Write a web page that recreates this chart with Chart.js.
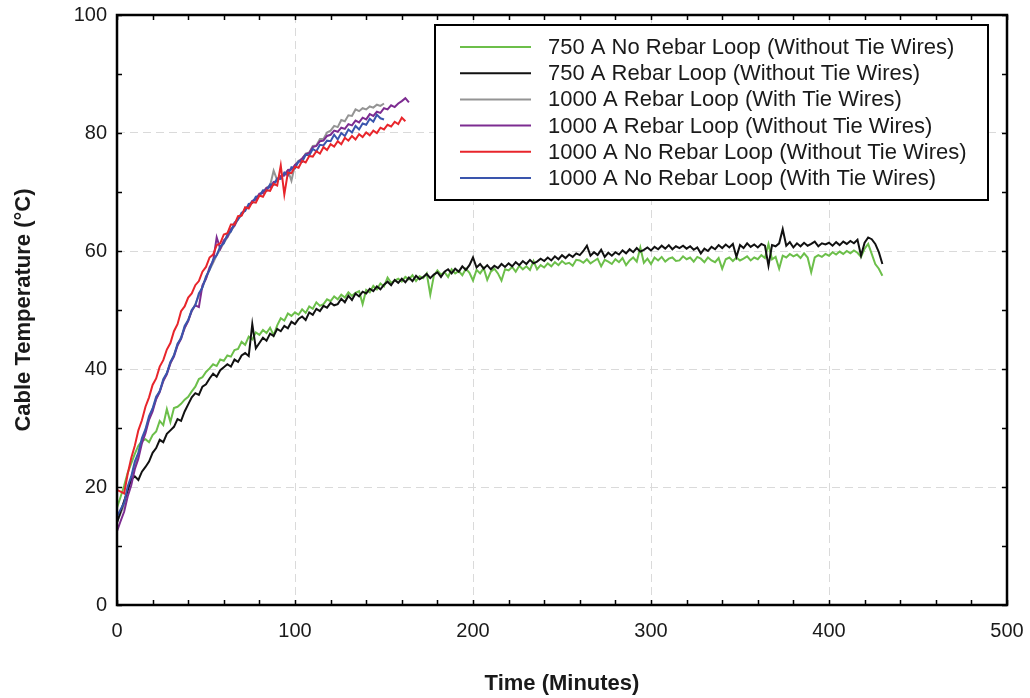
<!DOCTYPE html>
<html>
<head>
<meta charset="utf-8">
<script src="https://cdn.jsdelivr.net/npm/chart.js@4.4.2/dist/chart.umd.min.js"></script>
<style>
  html, body { margin: 0; padding: 0; background: #fff; }
  #wrap { width: 1030px; height: 698px; }
</style>
</head>
<body>
<div id="wrap"><canvas id="temps" width="1030" height="698"></canvas></div>
<script>
// readings every 2 minutes
const STEP = 2;

const seriesLabels = [
  '750 A No Rebar Loop (Without Tie Wires)',
  '750 A Rebar Loop (Without Tie Wires)',
  '1000 A Rebar Loop (With Tie Wires)',
  '1000 A Rebar Loop (Without Tie Wires)',
  '1000 A No Rebar Loop (Without Tie Wires)',
  '1000 A No Rebar Loop (With Tie Wires)'
];
const seriesColors = ['#6cbf4a', '#111111', '#949494', '#7d2c91', '#e8252b', '#3a55ad'];

const green750 = [
  16.5, 18.3, 20.2, 22.4, 24.0, 25.6, 27.0, 27.8, 28.1, 27.6,
  28.8, 29.4, 31.2, 30.5, 33.2, 31.0, 33.4, 33.6, 34.1, 34.8,
  35.3, 36.2, 37.0, 38.3, 38.6, 39.5, 40.1, 40.8, 40.5, 41.6,
  41.4, 42.3, 42.1, 43.2, 43.4, 44.6, 44.1, 45.5, 45.0, 46.2,
  45.8, 46.6, 46.1, 47.0, 45.7, 47.4, 48.6, 48.2, 49.4, 49.0,
  49.6, 49.2, 50.1, 49.5, 50.6, 50.2, 51.3, 50.7, 51.0, 51.8,
  51.5, 52.3, 51.8, 52.6, 52.1, 53.0, 52.4, 52.9, 53.2, 51.0,
  53.4, 53.0, 54.1, 53.5, 54.5, 54.0, 55.5, 54.6, 55.0, 55.3,
  54.8, 55.6, 55.2, 55.9, 54.9, 55.7, 55.4, 56.2, 52.6, 55.8,
  56.7, 56.0, 56.4, 55.6, 56.9, 56.2, 56.6, 55.9, 57.0, 56.3,
  55.0, 56.8, 56.2, 57.1, 55.1, 56.5, 57.0, 56.2, 55.0, 56.9,
  56.7, 57.3, 56.5, 57.5, 56.9, 57.4, 56.8, 58.3, 56.9, 57.6,
  57.2, 57.9, 57.4, 58.1, 57.6, 58.3, 57.8, 58.0, 57.5, 58.5,
  58.4, 58.0, 58.6, 57.9, 58.3, 58.7, 57.4, 58.5, 58.2, 57.8,
  58.6, 58.1, 58.8, 57.6, 58.4, 58.9, 58.2, 60.6, 58.0, 58.7,
  57.8, 58.9, 58.4, 59.0, 58.2, 58.7, 58.9, 58.3, 58.4, 59.1,
  58.6, 58.9, 58.2, 59.0, 58.7, 58.1, 58.9, 58.4, 58.1, 58.8,
  57.0, 58.6, 58.9, 58.3, 58.9, 58.4, 58.7, 59.1, 58.4, 58.9,
  58.6, 59.3, 58.8, 61.2, 58.6, 59.0, 57.0, 59.2, 58.9, 59.5,
  59.1, 59.4, 58.8, 59.6, 58.9, 56.4, 58.9, 59.3, 59.0, 59.5,
  59.2, 59.8, 59.4, 59.9, 59.5, 60.0, 59.6, 60.1, 59.7, 59.0,
  60.4, 61.2, 59.5, 57.8, 57.0, 55.8
];

const black750 = [
  14.0, 15.8, 17.6, 19.4, 21.3, 21.8, 21.2, 22.6, 23.4, 24.3,
  25.8, 26.6, 28.0, 27.6, 29.0, 29.6, 30.2, 31.5, 31.2, 32.8,
  34.0, 35.2, 35.9, 35.6, 37.0, 37.4, 38.4, 39.2, 38.7, 39.8,
  40.3, 40.8, 40.4, 41.6, 41.2, 42.3, 42.7, 42.2, 47.6, 43.5,
  44.4, 45.3, 44.8, 46.0, 45.6, 46.8, 46.4, 47.3, 46.9, 48.0,
  47.6, 48.5, 48.9, 48.3, 49.6, 49.2, 50.2, 49.8, 50.7, 50.4,
  51.2, 50.8, 51.0, 51.9, 51.3, 52.4, 51.7, 52.8, 52.3, 53.1,
  52.8, 53.6, 53.2, 54.0, 53.5, 54.3, 54.8, 54.2, 55.1, 54.6,
  55.3, 54.7, 55.5, 54.9, 55.8, 55.2, 55.6, 56.1, 55.4, 56.0,
  56.4, 55.6, 56.5, 56.9, 56.2, 57.0, 56.5, 57.4, 56.8, 57.6,
  58.9, 57.2, 57.8, 57.0, 57.6, 56.9, 57.5, 57.1, 57.8, 57.3,
  57.9, 57.4, 58.1, 57.6, 58.3, 57.8, 58.5, 57.9, 58.2, 58.7,
  58.3, 58.9, 58.4, 59.1, 58.6, 59.3, 58.8, 59.4, 59.0, 59.6,
  59.3, 60.0, 60.9, 59.2, 59.8, 59.3, 60.2, 59.0, 59.7, 59.2,
  59.8, 59.4, 60.1, 59.6, 60.3, 59.8, 60.5, 59.9, 60.2, 60.6,
  60.1, 60.7, 60.3, 60.9, 60.4, 61.0, 60.3, 60.8, 60.5, 60.9,
  60.4, 60.8, 60.2, 60.6, 59.6, 60.4, 60.0, 60.7, 60.3, 61.0,
  60.5, 61.1, 60.6, 61.2, 59.0, 61.0, 60.5, 61.3, 60.7, 61.1,
  60.6, 61.2, 60.9, 57.5, 61.0, 60.8, 61.3, 63.7, 60.9, 61.5,
  60.6, 61.3, 60.8, 61.4, 60.9, 61.2, 61.6, 60.8, 61.3, 61.1,
  61.4, 60.9, 61.5, 61.0, 61.6, 61.2, 61.7, 61.3, 61.9, 59.2,
  61.4, 62.3, 62.0, 61.2, 59.8, 57.8
];

const gray1000 = [
  14.0, 15.5, 17.0, 19.4, 21.5, 23.6, 25.7, 27.8, 29.6, 31.6,
  33.2, 34.9, 36.3, 37.9, 39.3, 40.9, 42.4, 44.0, 45.4, 46.9,
  48.3, 49.8, 51.0, 52.4, 53.9, 55.4, 56.8, 58.0, 59.3, 60.3,
  61.4, 62.3, 63.4, 64.3, 65.4, 66.1, 67.0, 67.6, 68.4, 68.9,
  69.6, 70.0, 70.7, 71.1, 73.6, 72.0, 72.7, 73.0, 73.7, 71.9,
  74.6, 75.3, 75.6, 76.5, 76.7, 77.8, 77.9, 79.0, 79.0, 80.1,
  80.4, 81.2, 81.0, 82.2, 82.0, 83.0, 82.9, 84.0, 83.7, 84.2,
  84.0, 84.5, 84.3, 84.8, 84.6, 85.0
];

const purple1000 = [
  12.5, 14.2, 15.8, 18.4, 20.3, 23.0, 24.8, 27.4, 29.1, 31.4,
  32.8, 34.9, 36.1, 38.0, 39.1, 41.0, 42.1, 44.0, 45.1, 47.0,
  48.1, 49.9, 50.8, 50.5, 54.2, 55.3, 57.2, 58.3, 62.3, 60.4,
  61.8, 62.4, 63.7, 64.3, 65.6, 66.1, 67.2, 67.5, 68.5, 68.7,
  69.7, 69.8, 70.7, 70.8, 71.7, 71.8, 72.7, 72.8, 73.7, 73.8,
  74.6, 75.1, 75.7, 76.4, 76.6, 77.6, 77.8, 78.6, 78.7, 79.5,
  79.7, 80.4, 80.2, 80.9, 80.7, 81.5, 81.3, 82.1, 81.8, 82.6,
  82.3, 83.2, 82.9, 83.6, 83.4, 84.2, 84.0, 84.7, 84.4, 85.0,
  85.4, 85.9, 85.2
];

const red1000 = [
  19.5, 19.2, 18.9, 22.2, 24.9, 27.0, 29.6, 31.3, 33.6, 35.2,
  37.3, 38.4, 40.4, 41.5, 43.3, 44.4, 46.4, 47.6, 49.8, 50.6,
  52.1, 52.8, 54.2, 54.9, 56.5, 57.3, 58.9, 59.4, 61.0, 61.3,
  62.8, 63.0, 64.5, 64.5, 65.9, 66.0, 67.4, 67.2, 68.3, 68.2,
  69.4, 69.2, 70.3, 70.2, 71.4, 71.1, 74.5, 69.6, 73.3, 73.2,
  74.3, 74.1, 75.3, 75.0, 76.1, 76.0, 76.9, 76.5, 77.6, 77.1,
  78.1, 77.7, 78.6, 78.1, 79.2, 78.7, 79.5, 78.9, 79.8, 79.3,
  80.1, 79.6, 80.4, 80.0, 80.9, 80.6, 81.4, 81.1, 81.9, 81.5,
  82.6, 82.0
];

const blue1000 = [
  15.0, 16.2, 17.3, 20.1, 21.8, 24.3, 25.8, 28.3, 29.8, 32.0,
  33.3, 35.3, 36.2, 38.3, 39.3, 41.2, 42.3, 44.3, 45.2, 47.3,
  48.3, 50.0, 50.8, 52.8, 53.8, 55.7, 56.8, 58.5, 59.3, 60.8,
  61.3, 62.8, 63.3, 64.8, 65.3, 66.5, 66.8, 68.0, 68.1, 69.2,
  69.3, 70.3, 70.2, 71.3, 71.2, 72.3, 72.2, 73.3, 72.8, 74.2,
  74.0, 75.2, 75.1, 76.3, 76.2, 77.3, 76.9, 78.0, 77.9, 78.7,
  78.6, 79.7, 78.9, 80.0, 79.5, 80.6, 80.1, 81.2, 80.6, 81.6,
  81.4, 82.4, 81.9, 83.1, 82.5, 82.3
];

const seriesValues = [green750, black750, gray1000, purple1000, red1000, blue1000];
const drawOrder = [5, 3, 4, 2, 0, 1];

const xTickValues = [0, 100, 200, 300, 400, 500];
const yTickValues = [0, 20, 40, 60, 80, 100];
const xMinorStep = 20;
const yMinorStep = 10;

function toPoints(values) {
  return values.map((v, i) => ({ x: i * STEP, y: v }));
}

// box, inward ticks on all four sides, legend with frame
const frameAndLegend = {
  id: 'frameAndLegend',
  afterDraw(chart) {
    const { ctx, chartArea: a, scales: { x, y } } = chart;
    ctx.save();
    ctx.strokeStyle = '#000';
    ctx.lineWidth = 1.5;
    ctx.beginPath();
    for (let t = x.min; t <= x.max; t += xMinorStep) {
      const px = Math.round(x.getPixelForValue(t)) + 0.5;
      ctx.moveTo(px, a.bottom); ctx.lineTo(px, a.bottom - 5);
      ctx.moveTo(px, a.top); ctx.lineTo(px, a.top + 5);
    }
    for (let v = y.min; v <= y.max; v += yMinorStep) {
      const py = Math.round(y.getPixelForValue(v)) + 0.5;
      ctx.moveTo(a.left, py); ctx.lineTo(a.left + 5, py);
      ctx.moveTo(a.right, py); ctx.lineTo(a.right - 5, py);
    }
    ctx.stroke();
    ctx.lineWidth = 2.5;
    ctx.strokeRect(a.left, a.top, a.right - a.left, a.bottom - a.top);

    // legend
    const lx = 435, ly = 25, lw = 553, lh = 175;
    ctx.fillStyle = '#fff';
    ctx.fillRect(lx, ly, lw, lh);
    ctx.lineWidth = 2;
    ctx.strokeRect(lx, ly, lw, lh);
    ctx.font = '22px "Liberation Sans", Arial, sans-serif';
    ctx.textBaseline = 'middle';
    ctx.textAlign = 'left';
    chart.data.datasets.forEach((ds, i) => {
      const ry = ly + 22 + i * 26.2;
      ctx.strokeStyle = ds.borderColor;
      ctx.lineWidth = 2;
      ctx.beginPath();
      ctx.moveTo(460, ry); ctx.lineTo(531, ry);
      ctx.stroke();
      ctx.fillStyle = '#1a1a1a';
      ctx.fillText(ds.label, 548, ry + 1);
    });
    ctx.restore();
  }
};

new Chart(document.getElementById('temps'), {
  type: 'line',
  data: {
    datasets: seriesValues.map((vals, i) => ({
      label: seriesLabels[i],
      data: toPoints(vals),
      borderColor: seriesColors[i],
      backgroundColor: seriesColors[i],
      borderWidth: 2,
      pointRadius: 0,
      tension: 0,
      order: drawOrder[i]
    }))
  },
  options: {
    responsive: false,
    animation: false,
    layout: { padding: { top: 15, right: 23, left: 0, bottom: 0 } },
    plugins: { legend: { display: false }, tooltip: { enabled: false } },
    scales: {
      x: {
        type: 'linear',
        min: 0,
        max: 500,
        afterBuildTicks: s => { s.ticks = xTickValues.map(v => ({ value: v })); },
        afterFit: s => { s.height = 93; s.paddingLeft = 0; s.paddingRight = 0; },
        ticks: {
          color: '#1a1a1a',
          padding: 14,
          maxRotation: 0,
          font: { family: '"Liberation Sans", Arial, sans-serif', size: 20 }
        },
        grid: { color: '#dadada', lineWidth: 1, drawTicks: false },
        border: { display: false, dash: [8, 5] },
        title: {
          display: true,
          text: 'Time (Minutes)',
          color: '#1a1a1a',
          padding: { top: 0, bottom: 1 },
          font: { family: '"Liberation Sans", Arial, sans-serif', size: 22, weight: 'bold' }
        }
      },
      y: {
        type: 'linear',
        min: 0,
        max: 100,
        afterBuildTicks: s => { s.ticks = yTickValues.map(v => ({ value: v })); },
        afterFit: s => { s.width = 117; s.paddingTop = 0; s.paddingBottom = 0; },
        ticks: {
          color: '#1a1a1a',
          padding: 10,
          font: { family: '"Liberation Sans", Arial, sans-serif', size: 20 }
        },
        grid: { color: '#dadada', lineWidth: 1, drawTicks: false },
        border: { display: false, dash: [8, 5] },
        title: {
          display: true,
          text: 'Cable Temperature (°C)',
          color: '#1a1a1a',
          padding: { top: 11, bottom: 0 },
          font: { family: '"Liberation Sans", Arial, sans-serif', size: 22, weight: 'bold' }
        }
      }
    }
  },
  plugins: [frameAndLegend]
});
</script>
</body>
</html>
